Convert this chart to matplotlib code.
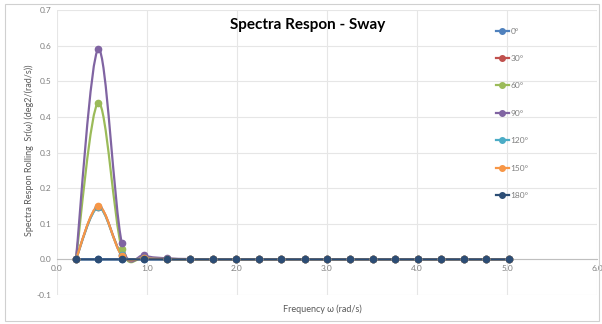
import matplotlib
matplotlib.use('Agg')
import matplotlib.pyplot as plt
from matplotlib.path import Path
from matplotlib.patches import PathPatch, Rectangle

# frequencies (rad/s) and spectral response per heading
freq = [0.21, 0.46, 0.72, 0.97, 1.22, 1.48, 1.73, 1.99, 2.24, 2.49,
        2.75, 3.00, 3.25, 3.51, 3.76, 4.01, 4.27, 4.52, 4.77, 5.02]
headings = ['0°', '30°', '60°', '90°', '120°', '150°', '180°']
sr_0 = [0.0] * 20
sr_30 = [0.0, 0.148, 0.013, 0.003, 0.001] + [0.0] * 15
sr_60 = [0.0, 0.440, 0.030, 0.007, 0.002] + [0.0] * 15
sr_90 = [0.0, 0.590, 0.046, 0.011, 0.003, 0.001] + [0.0] * 14
sr_120 = [0.0, 0.146, 0.012, 0.003, 0.001] + [0.0] * 15
sr_150 = [0.0, 0.150, 0.010, 0.003, 0.001] + [0.0] * 15
sr_180 = [0.0] * 20
series = [sr_0, sr_30, sr_60, sr_90, sr_120, sr_150, sr_180]
colors = ['#4F81BD', '#C0504D', '#9BBB59', '#8064A2', '#4BACC6', '#F79646', '#2C4D75']

plt.rcParams['font.family'] = ['Lato', 'DejaVu Sans']


def smooth_path(xs, ys):
    # Excel-like smoothed line: cubic bezier through the points
    pts = list(zip(xs, ys))
    verts = [pts[0]]
    codes = [Path.MOVETO]
    n = len(pts)
    for i in range(n - 1):
        p0 = pts[i - 1] if i > 0 else pts[i]
        p1 = pts[i]
        p2 = pts[i + 1]
        p3 = pts[i + 2] if i + 2 < n else pts[i + 1]
        c1 = (p1[0] + (p2[0] - p0[0]) / 6, p1[1] + (p2[1] - p0[1]) / 6)
        c2 = (p2[0] - (p3[0] - p1[0]) / 6, p2[1] - (p3[1] - p1[1]) / 6)
        verts += [c1, c2, p2]
        codes += [Path.CURVE4] * 3
    return Path(verts, codes)


fig = plt.figure(figsize=(6.02, 3.24), dpi=100)
ax = fig.add_axes([57 / 602, 1 - 295 / 324, 540 / 602, 285 / 324])

for ys, col, lab in zip(series, colors, headings):
    ax.add_patch(PathPatch(smooth_path(freq, ys), facecolor='none',
                           edgecolor=col, lw=1.6, zorder=3))
    ax.plot(freq, ys, ls='none', marker='o', ms=4.5, color=col, zorder=4)
    ax.plot([], [], color=col, lw=1.6, marker='o', ms=4, label=lab)

ax.set_xlim(0, 6)
ax.set_ylim(-0.1, 0.7)
ax.set_xticks([0, 1, 2, 3, 4, 5, 6])
ax.set_yticks([-0.1, 0, 0.1, 0.2, 0.3, 0.4, 0.5, 0.6, 0.7])
ax.xaxis.set_major_formatter(plt.FormatStrFormatter('%.1f'))
ax.yaxis.set_major_formatter(plt.FormatStrFormatter('%.1f'))
ax.tick_params(length=0, labelsize=6, labelcolor='#7f7f7f', pad=4)
ax.grid(True, color='#e6e6e6', lw=0.8)
ax.set_axisbelow(True)
for s in ['top', 'right', 'left']:
    ax.spines[s].set_visible(False)
ax.spines['bottom'].set_position(('data', 0))
ax.spines['bottom'].set_color('#bfbfbf')

fig.text(308 / 602, 1 - 25 / 324, 'Spectra Respon - Sway', ha='center', va='center',
         fontsize=11, fontweight='bold', color='black')
fig.text(322 / 602, 1 - 309 / 324, 'Frequency ω (rad/s)', ha='center', va='center',
         fontsize=6.5, color='#595959')
fig.text(29 / 602, 1 - 150 / 324, 'Spectra Respon Rolling  Sr(ω) (deg2/(rad/s))',
         ha='center', va='center', rotation=90, fontsize=6.5, color='#595959')

leg = ax.legend(loc='upper left', bbox_to_anchor=(488 / 602, 1 - 20 / 324),
                bbox_transform=fig.transFigure, frameon=False, fontsize=6,
                labelspacing=2.45, handlelength=1.6, handletextpad=0.2)
for t in leg.get_texts():
    t.set_color('#7f7f7f')

fig.add_artist(Rectangle((5 / 602, 3 / 324), 594 / 602, 317 / 324, transform=fig.transFigure,
                         fill=False, edgecolor='#d0d0d0', lw=0.8))

fig.savefig('out.png', dpi=100)
